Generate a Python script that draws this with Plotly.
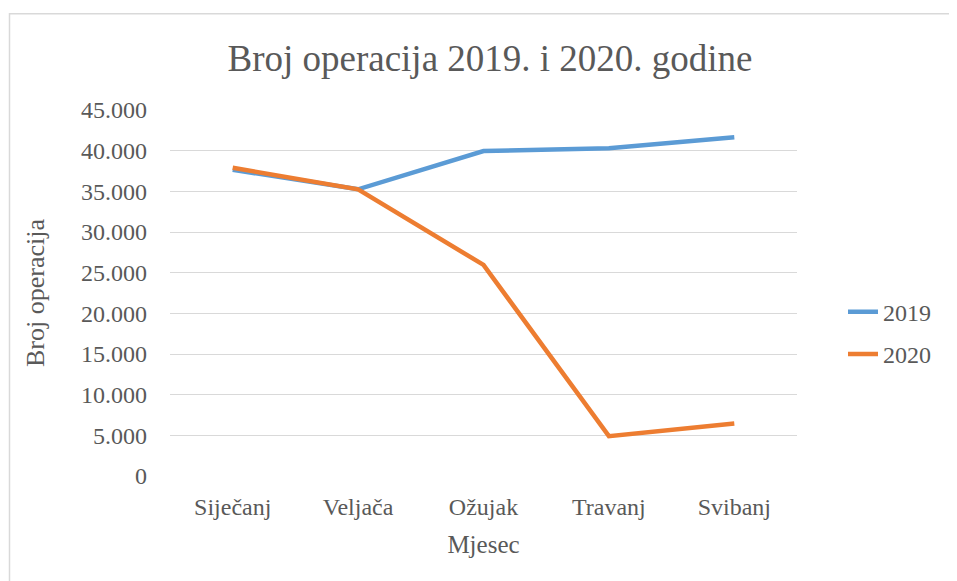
import plotly.graph_objects as go

months = ["Siječanj", "Veljača", "Ožujak", "Travanj", "Svibanj"]
ops_2019 = [37650, 35250, 39950, 40300, 41650]
ops_2020 = [37900, 35250, 25950, 4900, 6450]
y_tickvals = [0, 5000, 10000, 15000, 20000, 25000, 30000, 35000, 40000, 45000]
y_ticktext = ["0", "5.000", "10.000", "15.000", "20.000", "25.000", "30.000", "35.000", "40.000", "45.000"]

FONT = "Liberation Serif, Times New Roman, serif"
TXT = "#595959"

# page body has an 8px margin; work in screen coords and subtract it
OFF = 8
W, H = 957 - OFF, 581 - OFF
PL, PR, PT, PB = 170, 797, 110, 476.5   # plot area in screen coords
L, R, T, B = PL - OFF, W - (PR - OFF), PT - OFF, H - (PB - OFF)
pw, ph = W - L - R, H - T - B

def px_x(x):
    return (x - OFF - L) / pw

def px_y(y):
    return (H - B - (y - OFF)) / ph

fig = go.Figure()
fig.add_trace(go.Scatter(x=months, y=ops_2019, name="2019", mode="lines",
                         line=dict(color="#5B9BD5", width=4.5), legendgroup="a"))
fig.add_trace(go.Scatter(x=months, y=ops_2020, name="2020", mode="lines",
                         line=dict(color="#ED7D31", width=4.5), legendgroup="b"))

fig.update_layout(
    width=W, height=H,
    margin=dict(l=L, r=R, t=T, b=B, autoexpand=False),
    paper_bgcolor="white", plot_bgcolor="white",
    font=dict(family=FONT, color=TXT, size=24),
    title=dict(text="Broj operacija 2019. i 2020. godine", x=(490 - OFF) / W, xanchor="center",
               y=1 - (58 - OFF) / H, yanchor="middle", font=dict(size=37, color=TXT, family=FONT)),
    xaxis=dict(range=[-0.5, 4.5], showgrid=False, zeroline=False, showline=False,
               ticks="", tickfont=dict(size=24), ticklabelstandoff=14,
               title=dict(text="Mjesec", font=dict(size=25), standoff=16)),
    yaxis=dict(range=[0, 45000], tickvals=y_tickvals, ticktext=y_ticktext,
               showgrid=True, gridcolor="#D9D9D9", gridwidth=1.3, zeroline=False,
               showline=False, ticks="", tickfont=dict(size=24), ticklabelstandoff=22,
               title=dict(text="Broj operacija", font=dict(size=26), standoff=28)),
    legend=dict(x=px_x(843), y=px_y(290), xanchor="left", yanchor="top",
                font=dict(size=24), traceorder="grouped", tracegroupgap=8,
                bgcolor="rgba(0,0,0,0)"),
    shapes=[dict(type="rect", xref="paper", yref="paper",
                 x0=px_x(9.5), x1=px_x(957 + 20), y0=px_y(13.5), y1=px_y(581 + 20),
                 line=dict(color="#D9D9D9", width=1.5), fillcolor="rgba(0,0,0,0)",
                 layer="below")],
)

fig.write_html("out.html")
